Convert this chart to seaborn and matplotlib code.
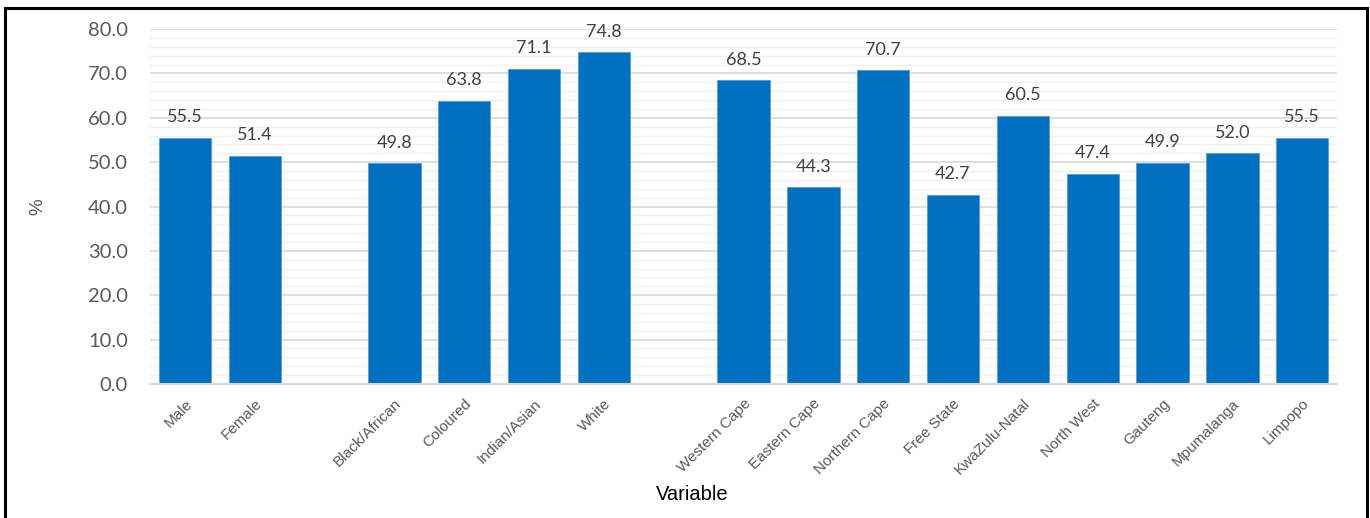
import matplotlib
matplotlib.use("Agg")
import matplotlib.pyplot as plt
from matplotlib.patches import Rectangle
from matplotlib.ticker import MultipleLocator
import seaborn as sns
import pandas as pd

# Share (%) by sex, population group and province
sex_labels = ["Male", "Female"]
sex_values = [55.5, 51.4]
race_labels = ["Black/African", "Coloured", "Indian/Asian", "White"]
race_values = [49.8, 63.8, 71.1, 74.8]
province_labels = ["Western Cape", "Eastern Cape", "Northern Cape", "Free State",
                   "KwaZulu-Natal", "North West", "Gauteng", "Mpumalanga", "Limpopo"]
province_values = [68.5, 44.3, 70.7, 42.7, 60.5, 47.4, 49.9, 52.0, 55.5]

# blank slots separate the three groups on the axis
gap_a, gap_b = "\u200b", "\u200b\u200b"
order = sex_labels + [gap_a] + race_labels + [gap_b] + province_labels

df = pd.DataFrame({
    "Variable": sex_labels + race_labels + province_labels,
    "Percent": sex_values + race_values + province_values,
})

sns.set_theme(style="white")
plt.rcParams["font.family"] = ["Liberation Sans", "DejaVu Sans"]

fig = plt.figure(figsize=(13.70, 5.18), dpi=100)
ax = fig.add_axes([0.1095, 0.2587, 0.8665, 0.6853])

sns.barplot(data=df, x="Variable", y="Percent", order=order, color="#0070C0",
            saturation=1, width=0.75, edgecolor="#5b9bd5", linewidth=0.6,
            ax=ax, zorder=3)

ax.set_ylim(0, 80)
ax.set_xlim(-0.5, len(order) - 0.5)
ax.yaxis.set_major_locator(MultipleLocator(10))
ax.yaxis.set_minor_locator(MultipleLocator(2))
ax.grid(axis="y", which="major", color="#d9d9d9", linewidth=1.2, zorder=0)
ax.grid(axis="y", which="minor", color="#f0f0f0", linewidth=1.0, zorder=0)
ax.set_axisbelow(True)

for side in ["top", "right", "left"]:
    ax.spines[side].set_visible(False)
ax.spines["bottom"].set_color("#d9d9d9")
ax.spines["bottom"].set_linewidth(1.5)
ax.spines["bottom"].set_zorder(4)

ax.set_yticks(range(0, 81, 10))
ax.set_yticklabels([f"{v:.1f}" for v in range(0, 81, 10)],
                   family="Lato", fontsize=14.5, color="#595959")
ax.tick_params(axis="y", which="both", length=0, pad=16)
ax.tick_params(axis="x", length=0, pad=9)

ticklabels = [t if t not in (gap_a, gap_b) else "" for t in order]
ax.set_xticks(range(len(order)))
ax.set_xticklabels(ticklabels, rotation=45, ha="right", rotation_mode="anchor",
                   fontsize=11, color="#595959")

for container in ax.containers:
    ax.bar_label(container, fmt="%.1f", padding=9, family="Lato",
                 fontsize=13, color="#404040")

ax.set_xlabel("Variable", fontsize=14.5, color="black")
ax.xaxis.set_label_coords(0.4566, -0.285)
ax.xaxis.label.set_verticalalignment("top")
ax.set_ylabel("%", fontsize=13.5, color="#595959", labelpad=30)

# frame around the whole chart
fig.patches.append(Rectangle((0.0036, -0.02), 0.9942, 1.0046, transform=fig.transFigure,
                             fill=False, edgecolor="black", linewidth=2.2))

fig.savefig("out.png", dpi=100)
